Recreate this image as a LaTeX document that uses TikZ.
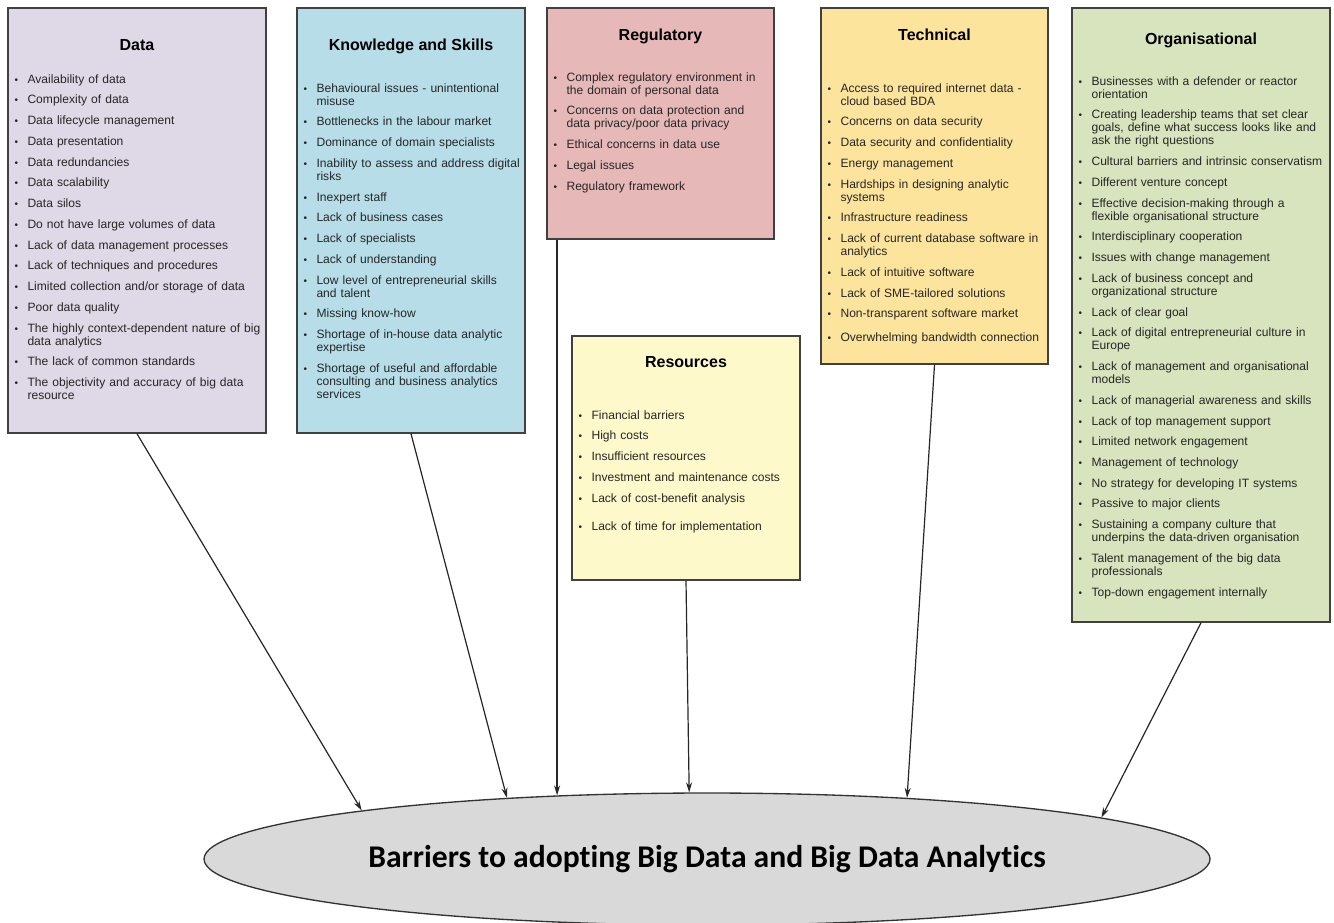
\documentclass[tikz,border=0pt]{standalone}
\usepackage{fontspec}
\setmainfont{Liberation Sans}
\newfontfamily\calibri[Ligatures=NoCommon]{Carlito}
\usepackage{enumitem}
\usetikzlibrary{positioning, fit, shapes.geometric, arrows.meta}

\definecolor{dataC}{HTML}{DFD8E7}
\definecolor{skillC}{HTML}{B7DDE8}
\definecolor{regC}{HTML}{E6B9B8}
\definecolor{resC}{HTML}{FEF9CB}
\definecolor{techC}{HTML}{FDE49D}
\definecolor{orgC}{HTML}{D8E4BD}
\definecolor{goalC}{HTML}{D9D9D9}

\setlist[itemize]{label=\rlap{\fontsize{7.5}{8}\selectfont\textbullet}, leftmargin=9.75pt,
  labelindent=0pt, labelwidth=0pt, labelsep=9.75pt, itemindent=0pt,
  topsep=0pt, partopsep=0pt, parsep=0pt, itemsep=5.8pt}

\begin{document}
\begin{tikzpicture}[x=0.75pt, y=-0.75pt, >={Stealth[length=7.5pt, width=4.5pt]},
    box/.style={draw=black!75, line width=1.1pt, fill=#1, inner sep=0pt},
    head/.style={font=\bfseries\fontsize{12}{14}\selectfont, inner sep=0pt, text height=9pt, text depth=2.5pt},
    list/.style={font=\fontsize{9.05}{9.75}\selectfont, text=black!85, inner sep=0pt, text width=240pt, align=left},
    goal/.style={ellipse, draw=black!80, line width=1pt, fill=goalC, inner sep=0pt,
      minimum width=754.5pt, minimum height=99pt, font=\calibri\bfseries\fontsize{23.7}{28}\selectfont},
    arr/.style={->, line width=0.9pt, black!85}]
    \useasboundingbox (0,0) rectangle (1334,922);

    % Categories
    \node[box=dataC, fit={(8,8) (266,433)}] (data) {};
    \node[box=skillC, fit={(297,8) (525,433)}] (skill) {};
    \node[box=regC, fit={(547,8) (774,239)}] (reg) {};
    \node[box=resC, fit={(572,336) (800,580)}] (res) {};
    \node[box=techC, fit={(821,8) (1048,364)}] (tech) {};
    \node[box=orgC, fit={(1072,8) (1330,622)}] (org) {};

    \node[head, below=23.25pt of data.north] {Data};
    \node[head, below=23.25pt of skill.north] {Knowledge and Skills};
    \node[head, below=15.75pt of reg.north] {Regulatory};
    \node[head, below=15pt of res.north] {Resources};
    \node[head, below=15.75pt of tech.north] {Technical};
    \node[head, below=18.75pt of org.north] {Organisational};

    % Lists
    \node[list, below right=47pt and 5.25pt of data.north west] (datal) {%
      \begin{itemize}
        \item Availability of data
        \item Complexity of data
        \item Data lifecycle management
        \item Data presentation
        \item Data redundancies
        \item Data scalability
        \item Data silos
        \item Do not have large volumes of data
        \item Lack of data management processes
        \item Lack of techniques and procedures
        \item Limited collection and/or storage of data
        \item Poor data quality
        \item The highly context-dependent nature of big\\data analytics
        \item The lack of common standards
        \item The objectivity and accuracy of big data\\resource
      \end{itemize}};
    \node[list, below right=53.75pt and 5.25pt of skill.north west] (skilll) {%
      \begin{itemize}
        \item Behavioural issues - unintentional\\misuse
        \item Bottlenecks in the labour market
        \item Dominance of domain specialists
        \item Inability to assess and address digital\\risks
        \item Inexpert staff
        \item Lack of business cases
        \item Lack of specialists
        \item Lack of understanding
        \item Low level of entrepreneurial skills\\and talent
        \item Missing know-how
        \item Shortage of in-house data analytic\\expertise
        \item Shortage of useful and affordable\\consulting and business analytics\\services
      \end{itemize}};
    \node[list, below right=45.5pt and 5.25pt of reg.north west] (regl) {%
      \begin{itemize}
        \item Complex regulatory environment in\\the domain of personal data
        \item Concerns on data protection and\\data privacy/poor data privacy
        \item Ethical concerns in data use
        \item Legal issues
        \item Regulatory framework
      \end{itemize}};
    \node[list, below right=53pt and 5.25pt of res.north west] (resl) {%
      \begin{itemize}
        \item Financial barriers
        \item High costs
        \item Insufficient resources
        \item Investment and maintenance costs
        \item Lack of cost-benefit analysis\vspace{5.4pt}
        \item Lack of time for implementation
      \end{itemize}};
    \node[list, below right=53.75pt and 5.25pt of tech.north west] (techl) {%
      \begin{itemize}
        \item Access to required internet data -\\cloud based BDA
        \item Concerns on data security
        \item Data security and confidentiality
        \item Energy management
        \item Hardships in designing analytic\\systems
        \item Infrastructure readiness
        \item Lack of current database software in\\analytics
        \item Lack of intuitive software
        \item Lack of SME-tailored solutions
        \item Non-transparent software market\vspace{2.4pt}
        \item Overwhelming bandwidth connection
      \end{itemize}};
    \node[list, below right=48.5pt and 5.25pt of org.north west] (orgl) {%
      \begin{itemize}
        \item Businesses with a defender or reactor\\orientation
        \item Creating leadership teams that set clear\\goals, define what success looks like and\\ask the right questions
        \item Cultural barriers and intrinsic conservatism
        \item Different venture concept
        \item Effective decision-making through a\\flexible organisational structure
        \item Interdisciplinary cooperation
        \item Issues with change management
        \item Lack of business concept and\\organizational structure
        \item Lack of clear goal
        \item Lack of digital entrepreneurial culture in\\Europe
        \item Lack of management and organisational\\models
        \item Lack of managerial awareness and skills
        \item Lack of top management support
        \item Limited network engagement
        \item Management of technology
        \item No strategy for developing IT systems
        \item Passive to major clients
        \item Sustaining a company culture that\\underpins the data-driven organisation
        \item Talent management of the big data\\professionals
        \item Top-down engagement internally
      \end{itemize}};

    % Goal
    \node[goal] (goal) at (707,859) {Barriers to adopting Big Data and Big Data Analytics};

    % Arrows
    \draw[arr] (data.south) -- (goal.172);
    \draw[arr] (skill.south) -- (goal.163);
    \draw[arr] (goal.157 |- reg.south) -- (goal.157);
    \draw[arr] (res.south) -- (goal.105);
    \draw[arr] (tech.south) -- (goal.17);
    \draw[arr] (org.south) -- (goal.6);
\end{tikzpicture}
\end{document}
